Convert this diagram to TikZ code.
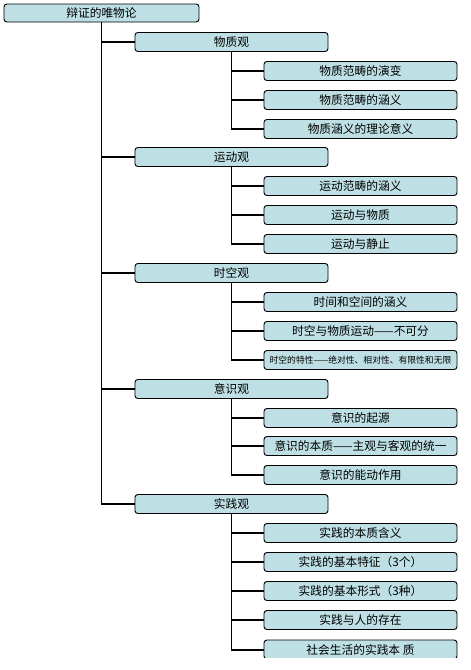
\documentclass[tikz,border=0pt]{standalone}
\usepackage{fontspec}
\setmainfont{Noto Sans CJK SC}
\usetikzlibrary{positioning}
\definecolor{boxc}{RGB}{190,224,228}
\tikzset{
  % 方框
  topbox/.style={rectangle, rounded corners=2.5pt, draw=black, line width=0.8pt, fill=boxc,
                 minimum width=5.85cm, minimum height=0.54cm, inner sep=0pt, align=center,
                 font=\fontsize{10}{12}\selectfont},
  mid/.style={topbox, minimum width=5.79cm, minimum height=0.57cm},
  leaf/.style={mid},
  % 连线
  ln/.style={line width=1.7pt, draw=black}
}

\begin{document}
\begin{tikzpicture}[x=0.03cm,y=-0.03cm]
  \useasboundingbox (0,0) rectangle (470,670);

  % 根
  \node[topbox] (root) at (101.5,13) {辩证的唯物论};

  % 物质观
  \node[mid] (wz) at (231.5,42) {物质观};
  \node[leaf] (wz1) at (360.5,71) {物质范畴的演变};
  \node[leaf] (wz2) at (360.5,100) {物质范畴的涵义};
  \node[leaf] (wz3) at (360.5,129) {物质涵义的理论意义};

  % 运动观
  \node[mid] (yd) at (231.5,157) {运动观};
  \node[leaf] (yd1) at (360.5,186) {运动范畴的涵义};
  \node[leaf] (yd2) at (360.5,215) {运动与物质};
  \node[leaf] (yd3) at (360.5,244) {运动与静止};

  % 时空观
  \node[mid] (sk) at (231.5,273) {时空观};
  \node[leaf] (sk1) at (360.5,302) {时间和空间的涵义};
  \node[leaf] (sk2) at (360.5,331) {时空与物质运动——不可分};
  \node[leaf, font=\fontsize{7.5}{9}\selectfont] (sk3) at (360.5,360) {时空的特性——绝对性、相对性、有限性和无限};

  % 意识观
  \node[mid] (ys) at (231.5,389) {意识观};
  \node[leaf] (ys1) at (360.5,418) {意识的起源};
  \node[leaf] (ys2) at (360.5,446) {意识的本质——主观与客观的统一};
  \node[leaf] (ys3) at (360.5,475) {意识的能动作用};

  % 实践观
  \node[mid] (sj) at (231.5,504) {实践观};
  \node[leaf] (sj1) at (360.5,533) {实践的本质含义};
  \node[leaf] (sj2) at (360.5,562) {实践的基本特征（3个）};
  \node[leaf] (sj3) at (360.5,591) {实践的基本形式（3种）};
  \node[leaf] (sj4) at (360.5,620) {实践与人的存在};
  \begin{scope}
    \clip (0,0) rectangle (470,657);
    \node[leaf] (sj5) at (360.5,649.5) {社会生活的实践本 质};
  \end{scope}

  % 树干
  \draw[ln] (root.south) |- (wz.west);
  \draw[ln] (root.south) |- (yd.west);
  \draw[ln] (root.south) |- (sk.west);
  \draw[ln] (root.south) |- (ys.west);
  \draw[ln] (root.south) |- (sj.west);

  \draw[ln] (wz.south) |- (wz1.west);
  \draw[ln] (wz.south) |- (wz2.west);
  \draw[ln] (wz.south) |- (wz3.west);

  \draw[ln] (yd.south) |- (yd1.west);
  \draw[ln] (yd.south) |- (yd2.west);
  \draw[ln] (yd.south) |- (yd3.west);

  \draw[ln] (sk.south) |- (sk1.west);
  \draw[ln] (sk.south) |- (sk2.west);
  \draw[ln] (sk.south) |- (sk3.west);

  \draw[ln] (ys.south) |- (ys1.west);
  \draw[ln] (ys.south) |- (ys2.west);
  \draw[ln] (ys.south) |- (ys3.west);

  \draw[ln] (sj.south) |- (sj1.west);
  \draw[ln] (sj.south) |- (sj2.west);
  \draw[ln] (sj.south) |- (sj3.west);
  \draw[ln] (sj.south) |- (sj4.west);
  \draw[ln] (sj.south) |- (sj5.west);
\end{tikzpicture}
\end{document}
